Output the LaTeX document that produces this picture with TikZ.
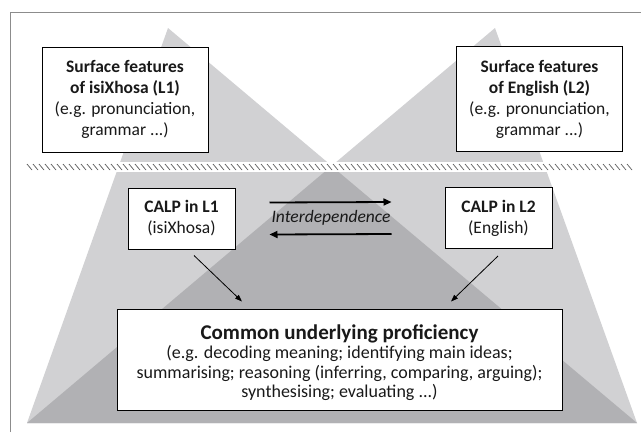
\documentclass[tikz,border=0pt]{standalone}
\usepackage{fontspec}
\setmainfont{Carlito}
\usetikzlibrary{calc,arrows.meta}
\definecolor{lightg}{RGB}{209,209,211}
\definecolor{darkg}{RGB}{177,177,180}
\definecolor{framec}{RGB}{140,140,140}
\definecolor{hatchc}{RGB}{90,90,90}
\definecolor{txt}{RGB}{25,25,25}
\begin{document}
\begin{tikzpicture}[x=1pt,y=-1pt,
  box/.style={draw=black, line width=1pt, fill=white, align=center, inner sep=0pt, text=txt},
  surf/.style={box, minimum width=166pt, minimum height=105pt, font=\fontsize{17.5}{21}\selectfont},
  calp/.style={box, minimum width=107pt, minimum height=61pt, font=\fontsize{17.5}{21}\selectfont},
  cupbox/.style={box, minimum width=445pt, minimum height=101pt, font=\fontsize{18}{19.5}\selectfont},
  bigarrow/.style={line width=1.8pt, -{Triangle[length=8pt,width=7pt]}},
  smallarrow/.style={line width=0.8pt, -{Triangle[length=7pt,width=5pt]}},
  framel/.style={draw=framec, line width=1.5pt}]
\useasboundingbox (0,0) rectangle (641,432);
% icebergs
\fill[lightg] (168,28) -- (637,423) -- (27,423) -- cycle;
\fill[lightg] (495,28) -- (637,423) -- (27,423) -- cycle;
\fill[darkg] (331.5,166) -- (637,423) -- (27,423) -- cycle;
% waterline band and hatch
\fill[white] (12,162) rectangle (641,172);
\foreach \x in {27,33,...,632} \draw[hatchc, line width=0.7pt] (\x,164) -- (\x+5,170);
% frame
\draw[framel] (10.5,432) -- (10.5,12.5) -- (641,12.5);
% boxes
\node[surf] (s1) at (125,99.5) {\textbf{Surface features}\\\textbf{of isiXhosa (L1)}\\(e.g. pronunciation,\\grammar ...)};
\node[surf] (s2) at (539.5,99) {\textbf{Surface features}\\\textbf{of English (L2)}\\(e.g. pronunciation,\\grammar ...)};
\node[calp] (c1) at (181.5,218.5) {\textbf{CALP in L1}\\(isiXhosa)};
\node[calp] (c2) at (498.5,218) {\textbf{CALP in L2}\\(English)};
\node[cupbox] (cup) at (339.5,359.5) {{\fontsize{21}{21}\selectfont\rule{0pt}{21pt}\textbf{Common underlying proficiency}}\\(e.g. decoding meaning; identifying main ideas;\\summarising; reasoning (inferring, comparing, arguing);\\synthesising; evaluating ...)};
% interdependence
\node[font=\fontsize{17.5}{18}\selectfont\itshape, text=txt] (inter) at (331,218) {Interdependence};
\draw[bigarrow] ($(c1.east)+(34,-16)$) -- ($(c2.west)+(-53,-16)$);
\draw[bigarrow] ($(c2.west)+(-53,16)$) -- ($(c1.east)+(34,16)$);
% to CUP
\draw[smallarrow] ($(c1.south)+(12.5,6)$) -- ($(cup.north)+(-97.5,-7)$);
\draw[smallarrow] ($(c2.south)+(-0.5,7)$) -- ($(cup.north)+(111.5,-7)$);
\end{tikzpicture}
\end{document}
